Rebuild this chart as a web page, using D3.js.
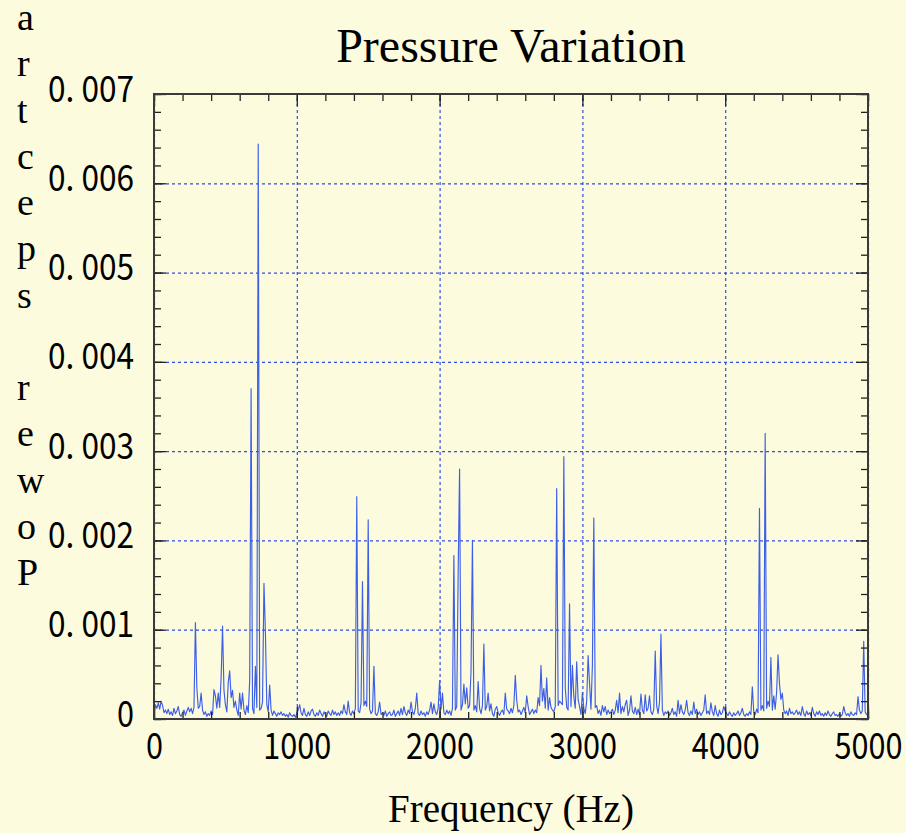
<!DOCTYPE html>
<html lang="en">
  <head>
    <meta charset="UTF-8" />
    <title>Pressure Variation</title>
    <script src="https://d3js.org/d3.v7.min.js"></script>
    <style>
      body { margin: 0; background: #fdfbdd; }
    </style>
  </head>

  <body>
    <svg width="906" height="833"></svg>

    <script>
      // labels
      const chartTitle = "Pressure Variation";
      const xLabel = "Frequency (Hz)";
      const yLabel = "Power spectra";
      const xTicks = [0, 1000, 2000, 3000, 4000, 5000];
      const yTicks = [0, 0.001, 0.002, 0.003, 0.004, 0.005, 0.006, 0.007];

      // spectrum, one sample every 10 Hz from 0 to 5000 Hz, values in units of 1e-4
      const freqStep = 10;
      const power = [
        0.4, 1.6, 1.2, 1.8, 1.1, 2.0, 1.5, 0.7, 1.0, 0.6,
        1.1, 0.5, 0.8, 0.4, 1.2, 0.6, 0.9, 1.4, 0.5, 0.3,
        0.7, 1.0, 0.4, 0.9, 1.3, 0.8, 1.2, 0.6, 1.3, 10.8,
        3.5, 1.2, 1.4, 2.9, 1.0, 0.5, 0.8, 0.3, 0.6, 0.4,
        0.9, 0.5, 3.3, 2.6, 1.2, 2.9, 1.3, 4.6, 10.4, 3.2,
        1.6, 0.8, 4.1, 5.4, 2.4, 3.2, 1.3, 2.0, 1.0, 0.4,
        2.9, 1.1, 2.9, 1.0, 0.5, 1.5, 0.7, 4.3, 37.0, 1.2,
        0.6, 5.9, 1.3, 64.4, 1.0, 1.2, 1.9, 15.2, 9.8, 1.6,
        0.8, 3.8, 1.0, 0.4, 0.9, 0.6, 0.3, 0.7, 0.5, 0.8,
        0.4, 0.6, 0.3, 0.5, 0.2, 0.7, 0.4, 0.3, 0.5, 0.2,
        0.6, 1.0, 1.6, 0.7, 0.4, 1.2, 0.5, 0.3, 0.8, 0.4,
        0.9, 1.1, 0.5, 0.3, 0.7, 0.4, 1.0, 0.6, 0.3, 0.8,
        0.5, 0.3, 0.9, 0.6, 0.4, 1.0, 0.5, 0.8, 0.4, 0.7,
        0.4, 0.9, 0.6, 1.6, 0.8, 0.5, 2.0, 0.7, 0.4, 0.9,
        0.6, 1.2, 24.9, 0.9, 0.7, 1.8, 15.4, 1.5, 2.0, 1.4,
        22.3, 1.1, 0.6, 0.9, 5.9, 0.6, 0.4, 0.8, 1.9, 0.5,
        0.7, 0.4, 0.9, 0.3, 0.6, 0.8, 0.4, 0.5, 1.0, 0.3,
        0.6, 0.9, 0.4, 1.2, 0.5, 1.4, 0.7, 0.4, 1.0, 0.6,
        1.9, 0.8, 0.5, 1.2, 2.9, 0.6, 0.4, 0.9, 0.5, 0.7,
        0.3, 0.8, 0.5, 1.0, 1.9, 0.6, 1.7, 0.8, 0.5, 1.2,
        4.3, 1.1, 2.9, 0.7, 0.5, 1.0, 0.6, 0.9, 0.4, 1.2,
        18.3, 1.0, 1.4, 16.4, 28.0, 1.0, 1.6, 3.9, 1.7, 3.5,
        1.2, 1.5, 5.3, 20.0, 1.0, 1.5, 0.8, 4.2, 1.2, 0.6,
        1.5, 8.4, 1.0, 1.4, 2.9, 0.9, 1.7, 0.6, 0.3, 1.1,
        1.4, 0.7, 0.4, 0.8, 1.0, 0.5, 2.9, 1.1, 0.9, 0.6,
        1.2, 0.7, 1.5, 4.9, 2.1, 0.8, 1.0, 0.5, 0.9, 1.3,
        0.7, 2.6, 1.4, 0.5, 0.8, 1.1, 0.6, 1.0, 0.7, 2.4,
        1.5, 6.0, 2.0, 3.4, 1.2, 4.6, 1.0, 2.4, 1.3, 1.0,
        0.8, 1.4, 25.8, 1.5, 2.0, 1.8, 1.6, 29.4, 3.5, 1.3,
        1.0, 12.9, 1.4, 6.0, 2.5, 1.2, 6.4, 2.2, 1.4, 0.5,
        3.0, 1.2, 0.6, 2.0, 7.1, 4.0, 1.1, 6.0, 22.5, 1.3,
        1.5, 0.6, 1.0, 0.4, 1.5, 0.8, 1.4, 0.5, 1.0, 0.6,
        0.8, 1.1, 0.5, 1.0, 2.1, 0.7, 2.9, 0.6, 1.4, 0.8,
        1.6, 2.1, 0.4, 1.0, 2.6, 0.9, 0.6, 1.3, 0.5, 1.1,
        0.5, 2.8, 1.0, 0.6, 2.7, 0.9, 1.2, 2.6, 0.8, 0.5,
        1.1, 7.6, 1.5, 0.6, 1.9, 9.5, 1.0, 0.4, 0.8, 0.6,
        0.9, 0.4, 0.7, 1.2, 0.5, 0.8, 0.3, 2.1, 0.6, 1.6,
        0.8, 0.5, 1.0, 2.1, 0.7, 0.4, 0.9, 0.5, 1.9, 0.6,
        1.1, 0.5, 0.8, 0.4, 0.7, 1.0, 2.7, 0.6, 0.9, 0.5,
        1.8, 0.8, 0.4, 1.5, 0.6, 0.3, 1.0, 0.5, 0.7, 1.4,
        0.9, 0.6, 0.4, 0.8, 0.5, 0.3, 0.7, 0.4, 0.6, 0.9,
        0.4, 0.7, 1.2, 0.5, 0.3, 0.6, 0.4, 0.8, 0.5, 3.6,
        0.8, 0.5, 1.1, 0.7, 23.6, 1.0, 1.5, 0.9, 32.0, 1.2,
        2.0, 1.4, 6.9, 1.0, 2.6, 1.1, 3.0, 7.2, 4.0, 2.2,
        2.9, 1.0, 0.6, 0.9, 0.4, 1.2, 0.6, 0.8, 0.5, 0.7,
        1.0, 0.5, 0.8, 0.4, 1.4, 0.6, 0.3, 0.9, 0.5, 0.7,
        0.4, 1.3, 0.6, 0.3, 0.8, 0.5, 0.9, 0.4, 0.6, 0.3,
        0.7, 0.4, 0.9, 0.5, 0.3, 0.6, 0.8, 0.4, 0.5, 0.3,
        0.6, 0.3, 0.5, 1.4, 0.7, 0.4, 0.6, 0.3, 0.8, 0.5,
        0.4, 0.7, 0.5, 2.5, 1.0, 0.6, 0.9, 8.7, 0.8, 0.5,
        0.4
      ];

      const svg = d3.select("svg");
      const plotLeft = 154, plotRight = 868, plotTop = 94, plotBottom = 719;

      const x = d3.scaleLinear().domain([0, 5000]).range([plotLeft, plotRight]);
      const y = d3.scaleLinear().domain([0, 0.007]).range([plotBottom, plotTop]);

      svg.append("rect").attr("width", 906).attr("height", 833).attr("fill", "#fdfbdd");

      // dotted grid
      const grid = svg.append("g");
      grid.append("g")
        .attr("transform", `translate(0,${plotBottom})`)
        .call(d3.axisBottom(x).tickValues(xTicks).tickSize(-(plotBottom - plotTop)).tickFormat(""));
      grid.append("g")
        .attr("transform", `translate(${plotLeft},0)`)
        .call(d3.axisLeft(y).tickValues(yTicks).tickSize(-(plotRight - plotLeft)).tickFormat(""));
      grid.selectAll(".domain").remove();
      grid.selectAll("line")
        .attr("stroke", "#2f4fe0")
        .attr("stroke-width", 1.2)
        .attr("stroke-dasharray", "3,3");

      // spectrum line
      const line = d3.line()
        .x((d, i) => x(i * freqStep))
        .y(d => y(d * 1e-4));

      svg.append("path")
        .datum(power)
        .attr("d", line)
        .attr("fill", "none")
        .attr("stroke", "#3d5fe6")
        .attr("stroke-width", 1.15)
        .attr("stroke-linejoin", "round");

      // inward ticks on all four sides
      function ticks(axisFn, pos, values, size) {
        const g = svg.append("g")
          .attr("transform", pos)
          .call(axisFn.tickValues(values).tickSize(-size).tickFormat(""));
        g.select(".domain").remove();
        g.selectAll("line").attr("stroke", "#222").attr("stroke-width", 1.3);
      }
      const xMinor = x.ticks(25), yMinor = y.ticks(35);
      ticks(d3.axisBottom(x), `translate(0,${plotBottom})`, xMinor, 7);
      ticks(d3.axisTop(x), `translate(0,${plotTop})`, xMinor, 7);
      ticks(d3.axisBottom(x), `translate(0,${plotBottom})`, xTicks, 12);
      ticks(d3.axisTop(x), `translate(0,${plotTop})`, xTicks, 12);
      ticks(d3.axisLeft(y), `translate(${plotLeft},0)`, yMinor, 7);
      ticks(d3.axisRight(y), `translate(${plotRight},0)`, yMinor, 7);
      ticks(d3.axisLeft(y), `translate(${plotLeft},0)`, yTicks, 12);
      ticks(d3.axisRight(y), `translate(${plotRight},0)`, yTicks, 12);

      // frame
      svg.append("rect")
        .attr("x", plotLeft).attr("y", plotTop)
        .attr("width", plotRight - plotLeft).attr("height", plotBottom - plotTop)
        .attr("fill", "none")
        .attr("stroke", "#3a3a3a")
        .attr("stroke-width", 2);

      // tick labels
      const numFont = "'Noto Sans CJK JP', 'Noto Sans', sans-serif";
      const fmtY = d => d === 0 ? "0" : d3.format(".3f")(d).replace(".", ". ");
      const textLen = s => s.replace(/[^0-9]/g, "").length * 17 + (s.includes(".") ? 18 : 0);

      const yAxis = svg.append("g")
        .attr("transform", `translate(${plotLeft},0)`)
        .call(d3.axisLeft(y).tickValues(yTicks).tickSize(0).tickPadding(20).tickFormat(fmtY));
      yAxis.select(".domain").remove();
      yAxis.selectAll("text")
        .attr("dy", 7)
        .attr("font-family", numFont)
        .attr("font-size", 36)
        .attr("fill", "#000")
        .attr("textLength", d => textLen(fmtY(d)))
        .attr("lengthAdjust", "spacingAndGlyphs");

      const xAxis = svg.append("g")
        .attr("transform", `translate(0,${plotBottom})`)
        .call(d3.axisBottom(x).tickValues(xTicks).tickSize(0).tickFormat(d3.format("d")));
      xAxis.select(".domain").remove();
      xAxis.selectAll("text")
        .attr("y", 40)
        .attr("dy", null)
        .attr("font-family", numFont)
        .attr("font-size", 36)
        .attr("fill", "#000")
        .attr("textLength", d => textLen(String(d)))
        .attr("lengthAdjust", "spacingAndGlyphs");

      // titles
      const serif = "'Liberation Serif', 'Times New Roman', serif";
      svg.append("text")
        .attr("x", 511).attr("y", 62)
        .attr("text-anchor", "middle")
        .attr("font-family", serif)
        .attr("font-size", 48)
        .text(chartTitle);

      svg.append("text")
        .attr("x", 511).attr("y", 822)
        .attr("text-anchor", "middle")
        .attr("font-family", serif)
        .attr("font-size", 39)
        .text(xLabel);

      // y label stacked letter by letter, bottom to top
      svg.append("g").selectAll("text")
        .data(yLabel.split("").reverse())
        .join("text")
        .attr("x", 17)
        .attr("y", (d, i) => 30 + i * 46.25)
        .attr("font-family", serif)
        .attr("font-size", 38)
        .text(d => d);
    </script>
  </body>
</html>
